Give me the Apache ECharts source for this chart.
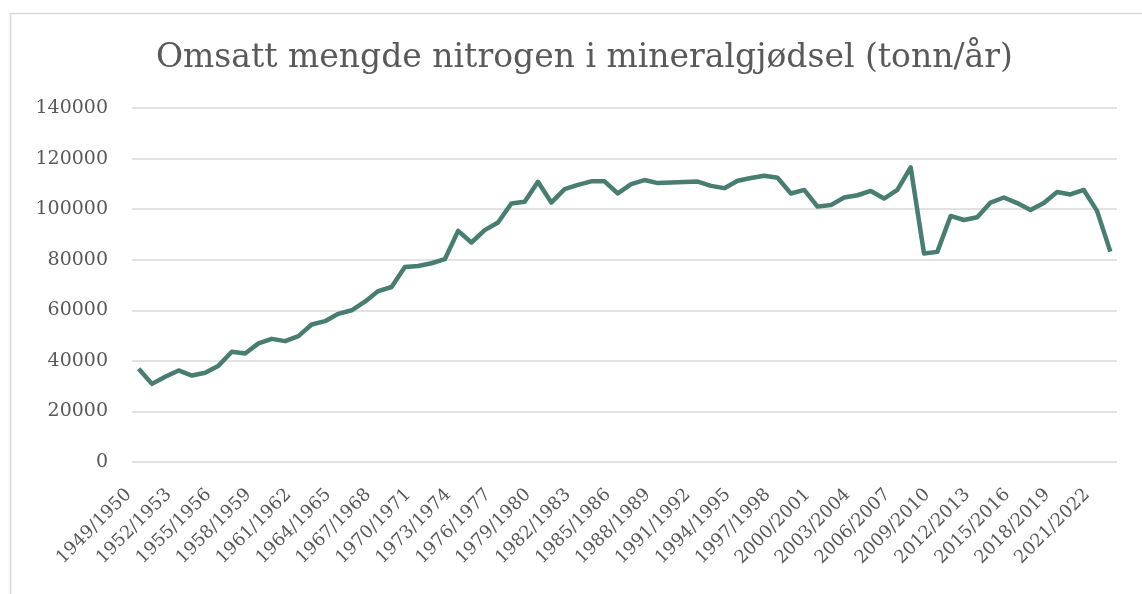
<!DOCTYPE html>
<html>
<head>
<meta charset="utf-8">
<title>Omsatt mengde nitrogen</title>
<script src="https://cdn.jsdelivr.net/npm/echarts@6/dist/echarts.min.js"></script>
<style>
	html, body { margin: 0; padding: 0; background: #fff; }
	#chart-container { width: 1142px; height: 594px; }
</style>
</head>
<body>
<div id="chart-container"></div>
<script>

// sesongar 1949/1950 - 2022/2023
var seasons = [];
for (var y = 1949; y <= 2022; y++) {
	seasons.push(y + "/" + (y + 1));
}

var nitrogen = [
	36900, 30900, 33700, 36200, 34200, 35300, 38100, 43600, 42900, 46900,
	48700, 47800, 49800, 54400, 55700, 58600, 60000, 63400, 67600, 69200,
	77100, 77500, 78600, 80200, 91400, 86800, 91700, 94700, 102200, 102900,
	110800, 102600, 107900, 109600, 111000, 111000, 106200, 109900, 111500, 110300,
	110500, 110700, 110900, 109200, 108300, 111200, 112300, 113200, 112400, 106200,
	107600, 101000, 101600, 104600, 105500, 107200, 104200, 107600, 116500, 82500,
	83100, 97300, 95700, 96800, 102600, 104600, 102400, 99700, 102400, 106800,
	105800, 107600, 99300, 83200
];

var yTicks = [0, 20000, 40000, 60000, 80000, 100000, 120000, 140000];

var fontFamily = "'DejaVu Serif', 'Liberation Serif', serif";
var textColor = "#595959";

var myChart = echarts.init(document.getElementById('chart-container'));

var option = {
	backgroundColor: "#ffffff",
	animation: false,
	title: {
		text: "Omsatt mengde nitrogen i mineralgjødsel (tonn/år)",
		left: 151,
		top: 37,
		textStyle: {
			fontFamily: fontFamily,
			fontWeight: "normal",
			fontSize: 33,
			color: textColor
		}
	},
	graphic: [{
		type: "rect",
		shape: { x: 10.5, y: 13.5, width: 1140, height: 600 },
		style: { fill: null, stroke: "#d9d9d9", lineWidth: 1.5 },
		silent: true
	}],
	grid: {
		left: 132,
		right: 25,
		top: 108,
		bottom: 132
	},
	xAxis: {
		type: "category",
		data: seasons,
		boundaryGap: true,
		axisLine: { show: false },
		axisTick: { show: false },
		axisLabel: {
			interval: 2,
			rotate: 45,
			margin: 20,
			padding: [0, 14, 0, 0],
			fontFamily: fontFamily,
			fontSize: 18,
			color: textColor
		}
	},
	yAxis: {
		type: "value",
		min: yTicks[0],
		max: yTicks[yTicks.length - 1],
		interval: 20000,
		axisLine: { show: false },
		axisTick: { show: false },
		axisLabel: {
			margin: 24,
			fontFamily: fontFamily,
			fontSize: 19,
			color: textColor,
			formatter: function (v) { return String(v); }
		},
		splitLine: {
			lineStyle: { color: "#d9d9d9", width: 1.5 }
		}
	},
	series: [{
		type: "line",
		data: nitrogen,
		symbol: "none",
		lineStyle: { color: "#487d72", width: 4.5, join: "round" },
		itemStyle: { color: "#487d72" }
	}]
};

myChart.setOption(option);
</script>
</body>
</html>
